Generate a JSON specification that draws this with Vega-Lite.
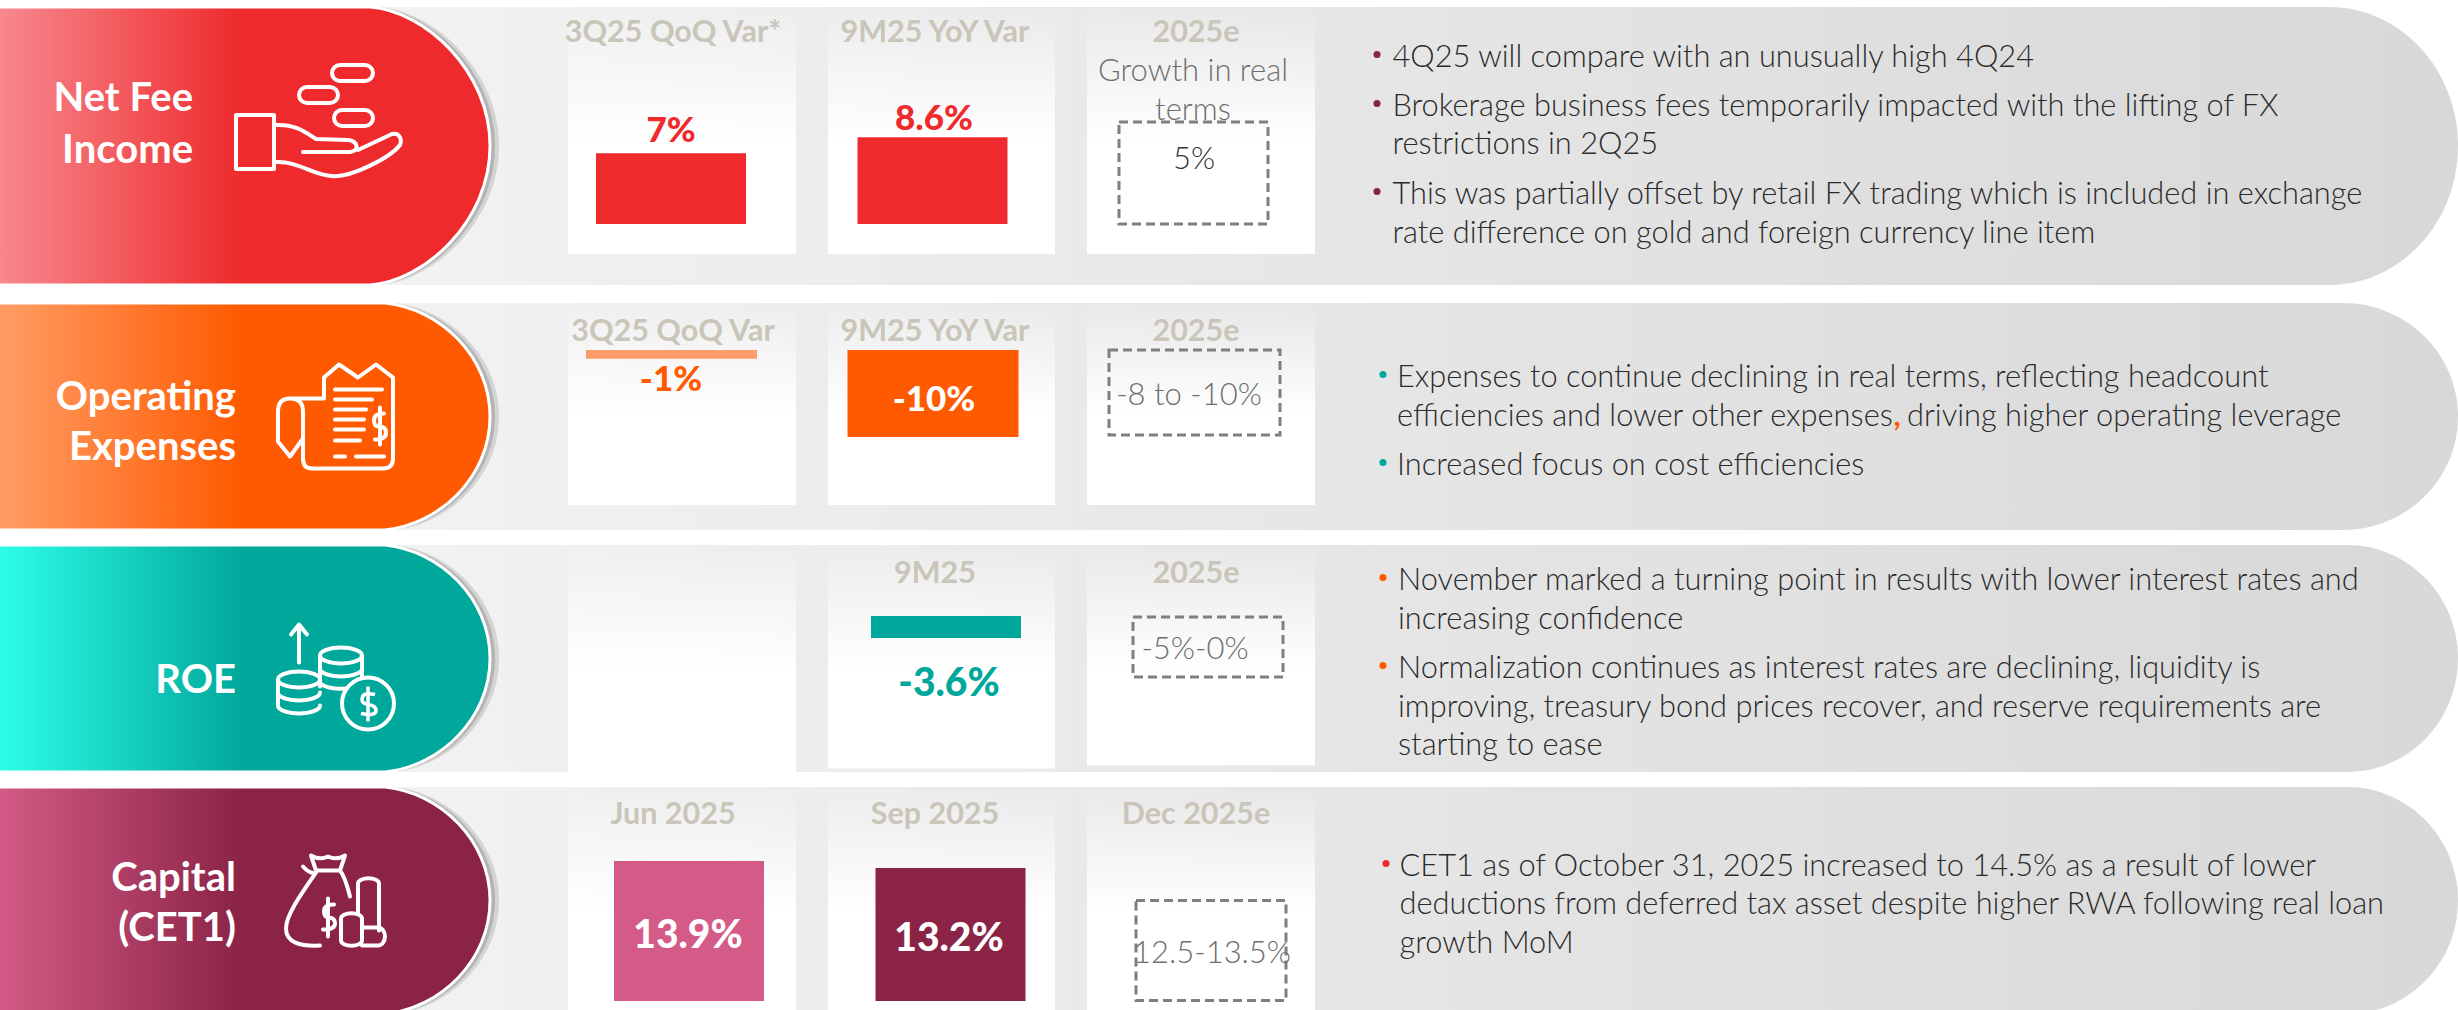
{"$schema":"https://vega.github.io/schema/vega-lite/v6.json","width":2458,"height":1010,"padding":0,"autosize":{"type":"none"},"background":"white","config":{"view":{"stroke":null},"axis":{"disable":true},"legend":{"disable":true}},
"datasets":{
"panels":[{"panel":1,"metric":"Net Fee Income"},{"panel":2,"metric":"Operating Expenses"},{"panel":3,"metric":"ROE"},{"panel":4,"metric":"Capital (CET1)"}],
"bars":[{"panel":1,"period":"3Q25 QoQ Var*","value":7,"label":"7%","slot":1},{"panel":1,"period":"9M25 YoY Var","value":8.6,"label":"8.6%","slot":2},{"panel":2,"period":"3Q25 QoQ Var","value":-1,"label":"-1%","slot":3},{"panel":2,"period":"9M25 YoY Var","value":-10,"label":"-10%","slot":4},{"panel":3,"period":"9M25","value":-3.6,"label":"-3.6%","slot":5},{"panel":4,"period":"Jun 2025","value":13.9,"label":"13.9%","slot":6},{"panel":4,"period":"Sep 2025","value":13.2,"label":"13.2%","slot":7}],
"headers":[{"panel":1,"col":1,"text":"3Q25 QoQ Var*"},{"panel":1,"col":2,"text":"9M25 YoY Var"},{"panel":1,"col":3,"text":"2025e"},{"panel":2,"col":1,"text":"3Q25 QoQ Var"},{"panel":2,"col":2,"text":"9M25 YoY Var"},{"panel":2,"col":3,"text":"2025e"},{"panel":3,"col":2,"text":"9M25"},{"panel":3,"col":3,"text":"2025e"},{"panel":4,"col":1,"text":"Jun  2025"},{"panel":4,"col":2,"text":"Sep  2025"},{"panel":4,"col":3,"text":"Dec 2025e"}],
"estimates":[{"slot":1,"text":"Growth in real"},{"slot":2,"text":"terms"},{"slot":3,"text":"5%"},{"slot":4,"text":"-8 to -10%"},{"slot":5,"text":"-5%-0%"},{"slot":6,"text":"12.5-13.5%"}],
"titles":[{"slot":1,"text":"Net Fee"},{"slot":2,"text":"Income"},{"slot":3,"text":"Operating"},{"slot":4,"text":"Expenses"},{"slot":5,"text":"ROE"},{"slot":6,"text":"Capital"},{"slot":7,"text":"(CET1)"}],
"notes":[{"line":1,"indent":1,"text":"4Q25 will compare with an unusually high 4Q24"},{"line":2,"indent":1,"text":"Brokerage business fees temporarily impacted with the lifting of FX"},{"line":3,"indent":1,"text":"restrictions in 2Q25"},{"line":4,"indent":1,"text":"This was partially offset by retail FX trading which is included in exchange"},{"line":5,"indent":1,"text":"rate difference on gold and foreign currency line item"},{"line":6,"indent":2,"text":"Expenses to continue declining in real terms, reflecting headcount"},{"line":7,"indent":2,"text":"efficiencies and lower other expenses"},{"line":7,"indent":6,"text":"driving higher operating leverage"},{"line":8,"indent":2,"text":"Increased focus on cost efficiencies"},{"line":9,"indent":3,"text":"November marked a turning point in results with lower interest rates and"},{"line":10,"indent":3,"text":"increasing confidence"},{"line":11,"indent":3,"text":"Normalization continues as interest rates are declining, liquidity is"},{"line":12,"indent":3,"text":"improving, treasury bond prices recover, and reserve requirements are"},{"line":13,"indent":3,"text":"starting  to ease"},{"line":14,"indent":4,"text":"CET1 as of October 31, 2025 increased to 14.5% as a result of lower"},{"line":15,"indent":4,"text":"deductions from deferred tax asset despite higher RWA following real loan"},{"line":16,"indent":4,"text":"growth MoM"}],
"bullets":[{"panel":1,"line":1},{"panel":1,"line":2},{"panel":1,"line":4},{"panel":2,"line":6},{"panel":2,"line":8},{"panel":3,"line":9},{"panel":3,"line":11},{"panel":4,"line":14}]
},
"resolve":{"scale":{"x":"independent","y":"independent","color":"independent","shape":"independent"}},
"layer":[
{"data":{"name":"panels"},"layer":[
{"mark":{"type":"point","size":4,"filled":true,"opacity":1,"strokeWidth":0,"fill":{"gradient":"linear","x1":0,"x2":1,"y1":0,"y2":0,"stops":[{"offset":0,"color":"#f7f7f7"},{"offset":1,"color":"#d8d8d8"}]}},
"encoding":{"shape":{"field":"panel","type":"nominal","scale":{"domain":[1,2,3,4],"range":["M-2,-139H2329A129,139 0 0 1 2458,0A129,139 0 0 1 2329,139H-2Z","M-2,-113.5H2343A115,113.5 0 0 1 2458,0A115,113.5 0 0 1 2343,113.5H-2Z","M-2,-113.5H2347A111,113.5 0 0 1 2458,0A111,113.5 0 0 1 2347,113.5H-2Z","M-2,-113.5H2347A111,113.5 0 0 1 2458,0A111,113.5 0 0 1 2347,113.5H-2Z"]}}}},
{"mark":{"type":"point","size":4,"filled":true,"opacity":1,"strokeWidth":0,"fill":{"gradient":"linear","x1":0,"x2":0,"y1":0,"y2":1,"stops":[{"offset":0,"color":"rgba(255,255,255,0)"},{"offset":0.55,"color":"#ffffff"},{"offset":1,"color":"#ffffff"}]}},
"encoding":{"shape":{"field":"panel","type":"nominal","scale":{"domain":[1,2,3,4],"range":["M568,-139H796V108H568ZM828,-139H1055V108H828ZM1087,-139H1315V108H1087Z","M568,-113.5H796V88.5H568ZM828,-113.5H1055V88.5H828ZM1087,-113.5H1315V88.5H1087Z","M568,-113.5H796V113.5H568ZM828,-113.5H1055V110H828ZM1087,-113.5H1315V107H1087Z","M568,-113.5H796V113.5H568ZM828,-113.5H1055V113.5H828ZM1087,-113.5H1315V113.5H1087Z"]}}}},
{"mark":{"type":"point","size":4,"filled":true,"opacity":0.18,"strokeWidth":0,"fill":"#555555","xOffset":9},
"encoding":{"shape":{"field":"panel","type":"nominal","scale":{"domain":[1,2,3,4],"range":["M-4,-139H370C425,-135 490,-75 490,0C490,75 425,135 370,139H-4Z","M-4,-113.5H385C440,-108 490,-60 490,0C490,60 440,108 385,113.5H-4Z","M-4,-113.5H385C440,-108 490,-60 490,0C490,60 440,108 385,113.5H-4Z","M-4,-113.5H385C440,-108 490,-60 490,0C490,60 440,108 385,113.5H-4Z"]}}}},
{"mark":{"type":"point","size":4,"filled":true,"opacity":0.25,"strokeWidth":0,"fill":"#555555","xOffset":5},
"encoding":{"shape":{"field":"panel","type":"nominal","scale":{"domain":[1,2,3,4],"range":["M-4,-139H370C425,-135 490,-75 490,0C490,75 425,135 370,139H-4Z","M-4,-113.5H385C440,-108 490,-60 490,0C490,60 440,108 385,113.5H-4Z","M-4,-113.5H385C440,-108 490,-60 490,0C490,60 440,108 385,113.5H-4Z","M-4,-113.5H385C440,-108 490,-60 490,0C490,60 440,108 385,113.5H-4Z"]}}}},
{"transform":[{"filter":"datum.panel==1"}],"mark":{"type":"point","size":4,"filled":true,"opacity":1,"stroke":"white","strokeWidth":3,"shape":"M-4,-139H370C425,-135 490,-75 490,0C490,75 425,135 370,139H-4Z","fill":{"gradient":"linear","x1":0,"x2":1,"y1":0,"y2":0,"stops":[{"offset":0,"color":"#f78a90"},{"offset":0.5,"color":"#ee2a2c"},{"offset":1,"color":"#ee2a2c"}]}}},
{"transform":[{"filter":"datum.panel==2"}],"mark":{"type":"point","size":4,"filled":true,"opacity":1,"stroke":"white","strokeWidth":3,"shape":"M-4,-113.5H385C440,-108 490,-60 490,0C490,60 440,108 385,113.5H-4Z","fill":{"gradient":"linear","x1":0,"x2":1,"y1":0,"y2":0,"stops":[{"offset":0,"color":"#ff9e66"},{"offset":0.5,"color":"#ff5a00"},{"offset":1,"color":"#ff5a00"}]}}},
{"transform":[{"filter":"datum.panel==3"}],"mark":{"type":"point","size":4,"filled":true,"opacity":1,"stroke":"white","strokeWidth":3,"shape":"M-4,-113.5H385C440,-108 490,-60 490,0C490,60 440,108 385,113.5H-4Z","fill":{"gradient":"linear","x1":0,"x2":1,"y1":0,"y2":0,"stops":[{"offset":0,"color":"#2dffe9"},{"offset":0.5,"color":"#00a79b"},{"offset":1,"color":"#00a79b"}]}}},
{"transform":[{"filter":"datum.panel==4"}],"mark":{"type":"point","size":4,"filled":true,"opacity":1,"stroke":"white","strokeWidth":3,"shape":"M-4,-113.5H385C440,-108 490,-60 490,0C490,60 440,108 385,113.5H-4Z","fill":{"gradient":"linear","x1":0,"x2":1,"y1":0,"y2":0,"stops":[{"offset":0,"color":"#d45b87"},{"offset":0.5,"color":"#8a2346"},{"offset":1,"color":"#8a2346"}]}}},
{"mark":{"type":"point","size":4,"filled":false,"opacity":1,"stroke":"white","strokeWidth":4,"strokeJoin":"round","strokeCap":"round"},
"encoding":{"shape":{"field":"panel","type":"nominal","scale":{"domain":[1,2,3,4],"range":[
"M236,-31H274V23H236ZM276,-21C295,-22 305,-14 316,-7L348,-6C358,-5 360,5 350,6L303,6M358,4L392,-12C400,-14 402,-6 400,-1C390,12 350,32 332,30C315,30 298,15 276,16M340,-81H365A8,8 0 0 1 365,-65H340A8,8 0 0 1 340,-81ZM307,-59H330A8,8 0 0 1 330,-43H307A8,8 0 0 1 307,-59ZM342,-36H365A8,8 0 0 1 365,-20H342A8,8 0 0 1 342,-36Z",
"M324,-39L339,-52L358,-39L376,-52L393,-39V42Q393,52 383,52H312Q303,52 303,42V-5Q303,-18 290,-18Q278,-18 278,-5V25L290,40L303,22M324,-18H290M324,-39V-18M335,-27H382M335,-17H372M335,-7H366M335,3H364M335,13H364M335,24H360M335,40H345M356,40H384M384,-3Q374,-3 374,4Q374,10 379,10Q386,10 386,16Q386,23 375,23M380,-9V28",
"M299,4V-34M291,-24L299,-34L307,-24M320,-3A21,8 0 1 1 362,-3A21,8 0 1 1 320,-3ZM320,-3V28M362,-3V22M320,10A21,8 0 0 0 362,10M320,24A21,8 0 0 0 345,30M278,21A21,8 0 1 1 320,21A21,8 0 1 1 278,21ZM278,21V47A21,8 0 0 0 320,47M278,34A21,8 0 0 0 320,34",
"M311,-45Q320,-40 328,-44Q336,-40 345,-45L340,-30H316ZM303,-34Q310,-26 316,-28M340,-30Q345,-24 350,-4M316,-28C300,-5 286,15 286,28C286,42 300,46 320,45M358,-17A10,5 0 0 1 379,-17V30M358,-17V13M341,18A10,5 0 0 1 362,18V40A10,5 0 0 1 341,40ZM362,27H378A7,9 0 0 1 378,45H362M334,4Q324,4 324,11Q324,16 328,17Q335,17 335,23Q335,29 323,29M328,-2V36"
]}}}},
{"transform":[{"filter":"datum.panel==3"}],"mark":{"type":"point","size":4,"filled":true,"opacity":1,"fill":"#00a79b","stroke":"white","strokeWidth":4,"shape":"M342,45A26,26 0 1 1 394,45A26,26 0 1 1 342,45Z"}},
{"transform":[{"filter":"datum.panel==3"}],"mark":{"type":"point","size":4,"filled":false,"opacity":1,"stroke":"white","strokeWidth":3.5,"shape":"M375,36Q362,33 362,41Q362,45 368,46Q376,47 376,52Q376,58 361,55M368,28V63"}},
{"mark":{"type":"point","size":4,"filled":false,"opacity":1,"stroke":"#7f7f7f","strokeWidth":3,"strokeDash":[9,5]},
"encoding":{"shape":{"field":"panel","type":"nominal","scale":{"domain":[1,2,3,4],"range":["M1119,-24H1268V78H1119Z","M1109,-66.5H1280V18.5H1109Z","M1133,-41.5H1283V18.5H1133Z","M1136,0H1286V100H1136Z"]}}}}
],"encoding":{"x":{"datum":0,"type":"quantitative","scale":{"domain":[0,2458],"range":[0,2458]}},"y":{"field":"panel","type":"quantitative","scale":{"domain":[1,2,3,4],"range":[146,416.5,658.5,900.5],"zero":false,"nice":false}}},"resolve":{"scale":{"shape":"independent"}}},
{"data":{"name":"bars"},"transform":[{"filter":"datum.panel==1"}],"mark":{"type":"bar","size":150},"encoding":{"x":{"field":"period","type":"nominal","scale":{"domain":["3Q25 QoQ Var*","9M25 YoY Var","2025e"],"range":[540.25,1324.75],"paddingInner":0,"paddingOuter":0}},"y":{"field":"value","type":"quantitative","scale":{"domain":[0,10],"range":[224,123]}},"y2":{"datum":0},"color":{"field":"label","type":"nominal","scale":{"domain":["7%","8.6%"],"range":["#ee2a2c","#ee2a2c"]}}}},
{"data":{"name":"bars"},"transform":[{"filter":"datum.panel==2"}],"mark":{"type":"bar","size":171},"encoding":{"x":{"field":"period","type":"nominal","scale":{"domain":["3Q25 QoQ Var","9M25 YoY Var","2025e"],"range":[540.75,1325.25],"paddingInner":0,"paddingOuter":0}},"y":{"field":"value","type":"quantitative","scale":{"domain":[0,-10],"range":[350,437]}},"y2":{"datum":0},"color":{"field":"label","type":"nominal","scale":{"domain":["-1%","-10%"],"range":["#ff9c6b","#ff5a00"]}}}},
{"data":{"name":"bars"},"transform":[{"filter":"datum.panel==3"}],"mark":{"type":"bar","size":150,"color":"#00a79b"},"encoding":{"x":{"field":"period","type":"nominal","scale":{"domain":["none","9M25","2025e"],"range":[553.75,1338.25],"paddingInner":0,"paddingOuter":0}},"y":{"field":"value","type":"quantitative","scale":{"domain":[0,-3.6],"range":[616,638]}},"y2":{"datum":0}}},
{"data":{"name":"bars"},"transform":[{"filter":"datum.panel==4"}],"mark":{"type":"bar","size":150},"encoding":{"x":{"field":"period","type":"nominal","scale":{"domain":["Jun 2025","Sep 2025","Dec 2025e"],"range":[558.25,1342.75],"paddingInner":0,"paddingOuter":0}},"y":{"field":"value","type":"quantitative","scale":{"domain":[0,13.9],"range":[1001,861]}},"y2":{"datum":0},"color":{"field":"label","type":"nominal","scale":{"domain":["13.9%","13.2%"],"range":["#d45b87","#8a2346"]}}}},
{"data":{"name":"bars"},"transform":[{"filter":"datum.slot<=4"}],"mark":{"type":"text","font":"Lato","fontWeight":900,"fontSize":35,"align":"center","baseline":"middle"},"encoding":{"text":{"field":"label"},"x":{"field":"slot","type":"quantitative","scale":{"domain":[1,2,3,4],"range":[671,934,671,934],"zero":false,"nice":false}},"y":{"field":"slot","type":"quantitative","scale":{"domain":[1,2,3,4],"range":[131,119,380,400],"zero":false,"nice":false}},"color":{"field":"label","type":"nominal","scale":{"domain":["7%","8.6%","-1%","-10%"],"range":["#ee2a2c","#ee2a2c","#ff5a00","#ffffff"]}}}},
{"data":{"name":"bars"},"transform":[{"filter":"datum.slot>=5"}],"mark":{"type":"text","font":"Lato","fontWeight":900,"fontSize":39,"align":"center","baseline":"middle"},"encoding":{"text":{"field":"label"},"x":{"field":"slot","type":"quantitative","scale":{"domain":[5,6,7],"range":[949,688,949],"zero":false,"nice":false}},"y":{"field":"slot","type":"quantitative","scale":{"domain":[5,6,7],"range":[684,936,939],"zero":false,"nice":false}},"color":{"field":"label","type":"nominal","scale":{"domain":["-3.6%","13.9%","13.2%"],"range":["#00a79b","#ffffff","#ffffff"]}}}},
{"data":{"name":"headers"},"mark":{"type":"text","font":"Lato","fontWeight":700,"fontSize":30.5,"align":"center","baseline":"middle","color":"#c9c5b9"},"encoding":{"text":{"field":"text"},"x":{"field":"col","type":"quantitative","scale":{"domain":[1,2,3],"range":[673,935,1196],"zero":false,"nice":false}},"y":{"field":"panel","type":"quantitative","scale":{"domain":[1,2,3,4],"range":[33,332,574,815],"zero":false,"nice":false}}}},
{"data":{"name":"estimates"},"mark":{"type":"text","font":"Lato","fontWeight":300,"fontSize":31,"align":"center","baseline":"middle"},"encoding":{"text":{"field":"text"},"x":{"field":"slot","type":"quantitative","scale":{"domain":[1,2,3,4,5,6],"range":[1193,1193,1194,1189,1195,1212],"zero":false,"nice":false}},"y":{"field":"slot","type":"quantitative","scale":{"domain":[1,2,3,4,5,6],"range":[72,111,160,396,650,954],"zero":false,"nice":false}},"color":{"field":"slot","type":"nominal","scale":{"domain":[1,2,3,4,5,6],"range":["#6e6e6e","#6e6e6e","#333333","#6e6e6e","#6e6e6e","#6e6e6e"]}}}},
{"data":{"name":"titles"},"mark":{"type":"text","font":"Lato","fontWeight":700,"fontSize":40,"align":"right","baseline":"middle","color":"white"},"encoding":{"text":{"field":"text"},"x":{"field":"slot","type":"quantitative","scale":{"domain":[1,2,3,7],"range":[193,193,236,236],"zero":false,"nice":false}},"y":{"field":"slot","type":"quantitative","scale":{"domain":[1,2,3,4,5,6,7],"range":[99,151,398,448,681,879,929],"zero":false,"nice":false}}}},
{"data":{"name":"notes"},"mark":{"type":"text","font":"Lato","fontWeight":300,"fontSize":30.8,"align":"left","baseline":"middle","color":"#2b2b2b"},"encoding":{"text":{"field":"text"},"x":{"field":"indent","type":"quantitative","scale":{"domain":[1,2,3,4,6],"range":[1392.5,1397,1398,1399.5,1907],"zero":false,"nice":false}},"y":{"field":"line","type":"quantitative","scale":{"domain":[1,2,3,4,5,6,7,8,9,10,11,12,13,14,15,16],"range":[57.5,106.5,144.5,194.5,233.5,377.5,416.5,465.5,580.5,619.5,668.5,707.5,745.5,866.5,904.5,943.5],"zero":false,"nice":false}}}},
{"data":{"values":[{"line":7,"text":","}]},"mark":{"type":"text","font":"Lato","fontWeight":700,"fontSize":30.8,"align":"center","baseline":"middle","color":"#ff5a00"},"encoding":{"text":{"field":"text"},"x":{"datum":1897,"type":"quantitative","scale":{"domain":[0,2458],"range":[0,2458]}},"y":{"datum":416.5,"type":"quantitative","scale":{"domain":[0,1010],"range":[0,1010]}}}},
{"data":{"name":"bullets"},"mark":{"type":"point","filled":true,"opacity":1,"size":50,"yOffset":-3},"encoding":{"x":{"field":"panel","type":"quantitative","scale":{"domain":[1,2,3,4],"range":[1377,1383,1383,1386],"zero":false,"nice":false}},"y":{"field":"line","type":"quantitative","scale":{"domain":[1,2,3,4,5,6,7,8,9,10,11,12,13,14,15,16],"range":[57.5,106.5,144.5,194.5,233.5,377.5,416.5,465.5,580.5,619.5,668.5,707.5,745.5,866.5,904.5,943.5],"zero":false,"nice":false}},"color":{"field":"panel","type":"nominal","scale":{"domain":[1,2,3,4],"range":["#8a2346","#00a79b","#ff5a00","#ee2a2c"]}}}}
]}
